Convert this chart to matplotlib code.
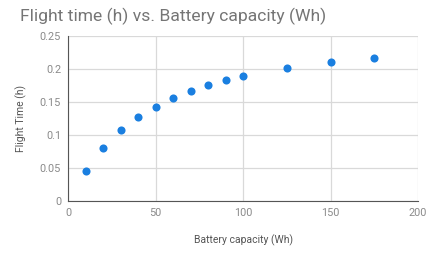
import matplotlib
matplotlib.use("Agg")
import matplotlib.pyplot as plt

# battery capacity (Wh) vs flight time (h)
capacity = [10, 20, 30, 40, 50, 60, 70, 80, 90, 100, 125, 150, 175]
flight_time = [0.046, 0.081, 0.107, 0.128, 0.143, 0.156, 0.167, 0.176, 0.184, 0.190, 0.202, 0.211, 0.216]

x_ticks = [0, 50, 100, 150, 200]
y_ticks = [0, 0.05, 0.1, 0.15, 0.2, 0.25]
y_labels = ["0", "0.05", "0.1", "0.15", "0.2", "0.25"]

plt.rcParams['font.family'] = ['Roboto', 'DejaVu Sans']

fig = plt.figure(figsize=(4.34, 2.57), dpi=100)
ax = fig.add_axes([68 / 434, 1 - 201 / 257, 350 / 434, 165 / 257])

ax.scatter(capacity, flight_time, s=34, color='#1a7fe0', zorder=3, linewidths=0)

ax.set_xlim(0, 200)
ax.set_ylim(0, 0.25)
ax.set_xticks(x_ticks)
ax.set_yticks(y_ticks)
ax.set_yticklabels(y_labels)
ax.grid(True, color='#d9d9d9', linewidth=0.9)
ax.set_axisbelow(True)
for s in ['top', 'right']:
    ax.spines[s].set_visible(False)
ax.spines['left'].set_color('#555555')
ax.spines['bottom'].set_color('#555555')
ax.tick_params(length=0, labelsize=7.8, colors='#8a8a8a', pad=5)

ax.set_ylabel('Flight Time (h)', fontsize=7.5, color='#555555', labelpad=9)
ax.set_xlabel('Battery capacity (Wh)', fontsize=7.5, color='#555555', labelpad=12)

fig.text(20 / 434, 1 - 16 / 257, 'Flight time (h) vs. Battery capacity (Wh)',
         fontsize=12.6, color='#757575', va='center', ha='left')

fig.savefig('out.png', dpi=100)
